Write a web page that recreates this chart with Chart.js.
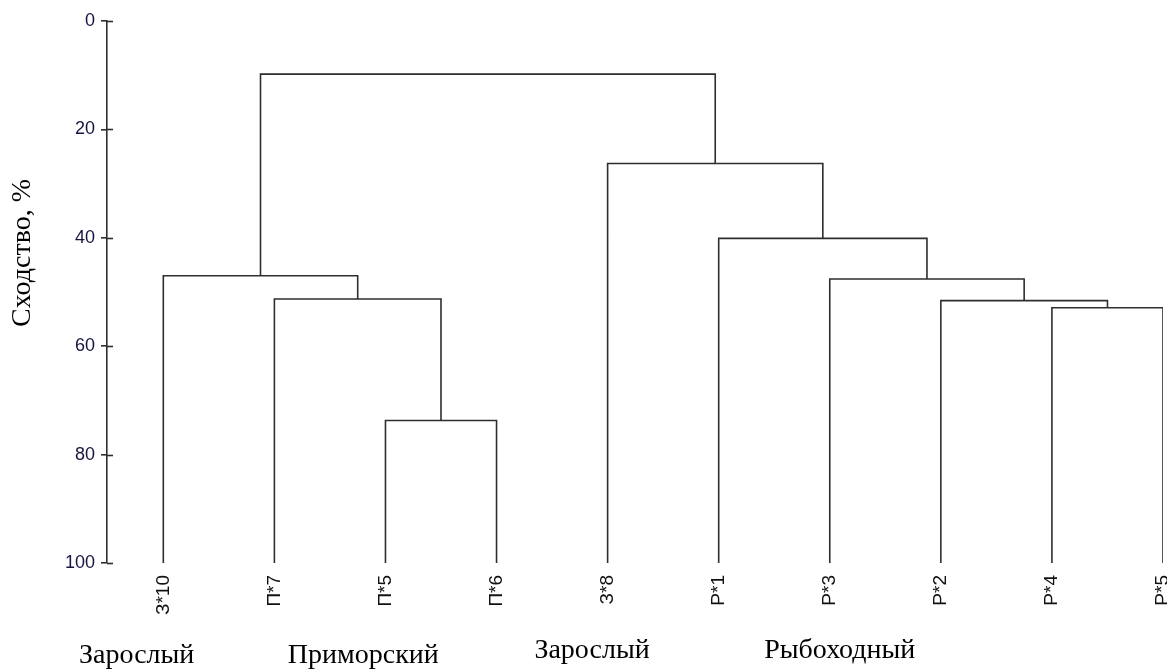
<!DOCTYPE html>
<html>
<head>
<meta charset="utf-8">
<script src="https://cdn.jsdelivr.net/npm/chart.js@4/dist/chart.umd.min.js"></script>
<style>
  html, body { margin: 0; padding: 0; background: #fff; }
  #wrap { width: 1167px; height: 669px; position: relative; }
</style>
</head>
<body>
<div id="wrap"><canvas id="dendro"></canvas></div>
<script>
// leaves, left to right
const leafNames = ['З*10', 'П*7', 'П*5', 'П*6', 'З*8', 'Р*1', 'Р*3', 'Р*2', 'Р*4', 'Р*5'];

// merges (hclust style): negative = leaf number (1-based), positive = earlier merge row
const mergeLeft   = [-3, -2, -1, -9, -8, -7, -6, -5, 3];
const mergeRight  = [-4,  1,  2, -10, 4,  5,  6,  7, 8];
const mergeHeight = [73.7, 51.3, 47.0, 52.9, 51.6, 47.6, 40.1, 26.3, 9.8];

const yTicks = [0, 20, 40, 60, 80, 100];
const leafLevel = 100;

// group captions under the leaves
const groupNames = ['Зарослый', 'Приморский', 'Зарослый', 'Рыбоходный'];
const groupCenters = [-0.24, 1.80, 3.86, 6.09]; // in leaf index units

const LINE = '#2e2e2e';

function nodePos(id) {
    if (id < 0) return { x: -id - 1, y: leafLevel };
    const k = id - 1;
    const a = nodePos(mergeLeft[k]);
    const b = nodePos(mergeRight[k]);
    return { x: (a.x + b.x) / 2, y: mergeHeight[k] };
}

const datasets = mergeHeight.map((h, k) => {
    const a = nodePos(mergeLeft[k]);
    const b = nodePos(mergeRight[k]);
    return {
        data: [
            { x: a.x, y: a.y },
            { x: a.x, y: h },
            { x: b.x, y: h },
            { x: b.x, y: b.y }
        ],
        showLine: true,
        borderColor: LINE,
        borderWidth: 1.6,
        pointRadius: 0,
        fill: false,
        tension: 0
    };
});

// captions, inner halves of y ticks
const extras = {
    id: 'extras',
    afterDraw(chart) {
        const c = chart.ctx;
        const xs = chart.scales.x;
        const ys = chart.scales.y;
        const area = chart.chartArea;

        c.save();
        c.strokeStyle = LINE;
        c.lineWidth = 1.6;
        yTicks.forEach(v => {
            const py = Math.round(ys.getPixelForValue(v)) + 0.5;
            c.beginPath();
            c.moveTo(area.left, py);
            c.lineTo(area.left + 6, py);
            c.stroke();
        });

        c.fillStyle = '#000';
        c.font = '28px "Liberation Serif", "Times New Roman", serif';
        c.textAlign = 'center';
        c.textBaseline = 'alphabetic';
        const drops = [100, 100, 95, 95];
        groupNames.forEach((name, i) => {
            c.fillText(name, xs.getPixelForValue(groupCenters[i]), area.bottom + drops[i]);
        });

        c.translate(23, 253);
        c.rotate(-Math.PI / 2);
        c.textBaseline = 'middle';
        c.fillText('Сходство, %', 0, 0);
        c.restore();
    }
};

new Chart(document.getElementById('dendro'), {
    type: 'scatter',
    data: { datasets },
    plugins: [extras],
    options: {
        responsive: true,
        maintainAspectRatio: false,
        animation: false,
        layout: { padding: { top: 21, right: 4, left: 0, bottom: 0 } },
        plugins: {
            legend: { display: false },
            tooltip: { enabled: false }
        },
        scales: {
            x: {
                type: 'linear',
                min: -0.507,
                max: 9,
                grid: { display: false, drawTicks: false },
                border: { display: false },
                afterBuildTicks: s => { s.ticks = leafNames.map((_, i) => ({ value: i })); },
                afterFit: s => { s.height = 106; s.paddingLeft = 0; s.paddingRight = 0; },
                ticks: {
                    autoSkip: false,
                    minRotation: 90,
                    maxRotation: 90,
                    padding: 12,
                    color: '#111',
                    font: { family: '"Liberation Sans", Arial, sans-serif', size: 19 },
                    callback: v => leafNames[v]
                }
            },
            y: {
                reverse: true,
                min: 0,
                max: 100,
                afterBuildTicks: s => { s.ticks = yTicks.map(v => ({ value: v })); },
                afterFit: s => { s.width = 107; },
                grid: { drawOnChartArea: false, tickLength: 6, color: LINE, lineWidth: 1.6 },
                border: { color: LINE, width: 1.6 },
                ticks: {
                    padding: 6,
                    color: '#15153f',
                    font: { family: '"Liberation Sans", Arial, sans-serif', size: 18 }
                }
            }
        }
    }
});
</script>
</body>
</html>
